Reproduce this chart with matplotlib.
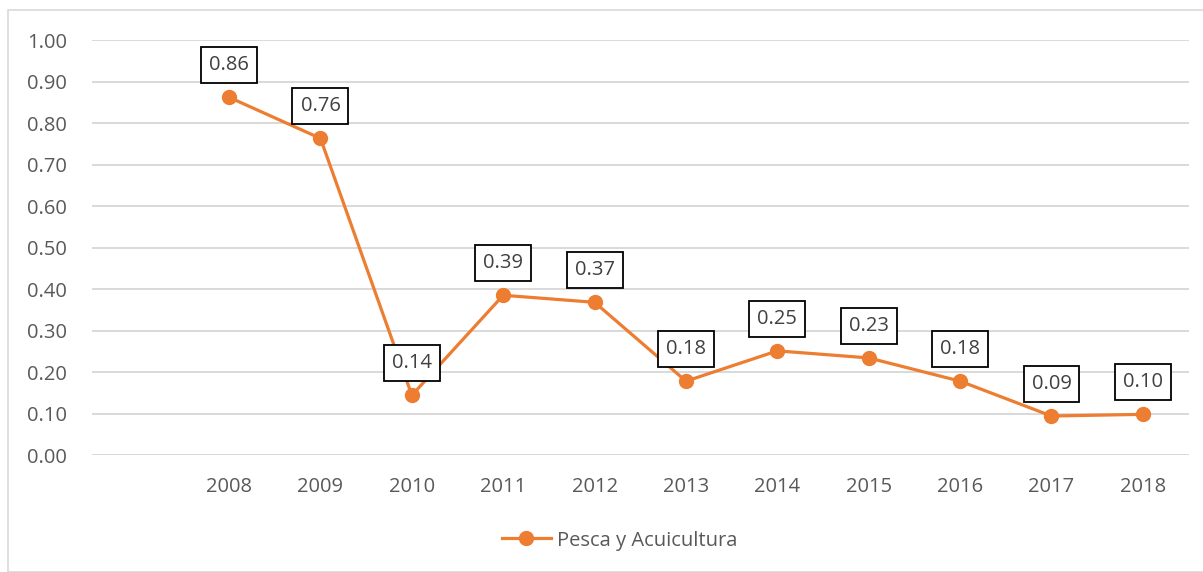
import matplotlib.pyplot as plt
from matplotlib.patches import Rectangle

# data (first category is blank in the source chart)
years = ['', '2008', '2009', '2010', '2011', '2012', '2013', '2014', '2015', '2016', '2017', '2018']
values = [None, 0.862, 0.763, 0.144, 0.385, 0.368, 0.178, 0.251, 0.234, 0.178, 0.094, 0.098]
series_name = 'Pesca y Acuicultura'

plt.rcParams['font.family'] = ['Open Sans', 'DejaVu Sans']

fig = plt.figure(figsize=(12.03, 5.72), dpi=100)
ax = fig.add_axes([0.0765, 0.2045, 0.9115, 0.7255])

xs = [i for i, v in enumerate(values) if v is not None]
ys = [v for v in values if v is not None]

color = '#ED7D31'
ax.plot(xs, ys, color=color, linewidth=2.3, marker='o', markersize=10,
        label=series_name, zorder=3)

for x, y in zip(xs, ys):
    ax.annotate(f'{y:.2f}', (x, y), xytext=(0, 32), textcoords='offset pixels',
                ha='center', va='center', fontsize=14.5, color='#404040',
                bbox=dict(boxstyle='square,pad=0.4', fc='white', ec='black', lw=1.3),
                zorder=4)

ax.set_xlim(-0.5, len(years) - 0.5)
ax.set_ylim(0, 1.0)
ax.set_yticks([i / 10 for i in range(11)])
ax.set_yticklabels([f'{i / 10:.2f}' for i in range(11)])
ax.set_xticks(range(len(years)))
ax.set_xticklabels(years)
ax.tick_params(axis='both', length=0, labelsize=14.5, labelcolor='#595959')
ax.tick_params(axis='y', pad=18)
ax.tick_params(axis='x', pad=16)
ax.grid(axis='y', color='#D9D9D9', linewidth=1.4)
ax.set_axisbelow(True)
for s in ax.spines.values():
    s.set_visible(False)

ax.legend(loc='center', bbox_to_anchor=(0.515, 0.055), bbox_transform=fig.transFigure,
          frameon=False, fontsize=14.5, labelcolor='#595959', handlelength=2.4,
          handletextpad=0.3)

# outer chart border
fig.patches.append(Rectangle((8 / 1203, 0.0), 1.0, 1 - 10 / 572,
                             transform=fig.transFigure, fill=False,
                             ec='#D9D9D9', lw=1.2))

fig.savefig('out.png', dpi=100)
